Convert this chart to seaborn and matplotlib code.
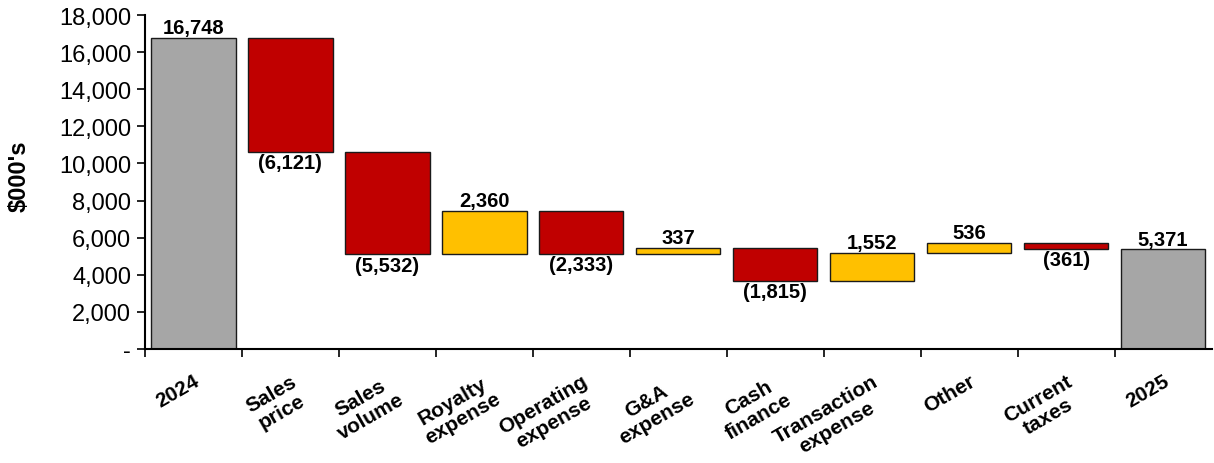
import matplotlib
matplotlib.use("Agg")
import matplotlib.pyplot as plt
import seaborn as sns
import numpy as np
import pandas as pd
from matplotlib.ticker import FuncFormatter, FixedLocator

categories = ["2024", "Sales\nprice", "Sales\nvolume", "Royalty\nexpense", "Operating\nexpense",
              "G&A\nexpense", "Cash\nfinance", "Transaction\nexpense", "Other", "Current\ntaxes", "2025"]
changes = [16748, -6121, -5532, 2360, -2333, 337, -1815, 1552, 536, -361, 5371]
kinds = ["total", "delta", "delta", "delta", "delta", "delta", "delta", "delta", "delta", "delta", "total"]

colors = {"total": "#A6A6A6", "neg": "#C00000", "pos": "#FFC000"}

# compute waterfall bases
bases, heights, ctype = [], [], []
running = 0
for v, k in zip(changes, kinds):
    if k == "total":
        bases.append(0); heights.append(v); ctype.append("total"); running = v
    else:
        new = running + v
        bases.append(min(running, new)); heights.append(abs(v))
        ctype.append("pos" if v > 0 else "neg")
        running = new

df = pd.DataFrame({"cat": categories, "h": heights, "b": bases, "t": ctype})

sns.set_theme(style="white")
plt.rcParams["font.family"] = ["Liberation Sans", "DejaVu Sans"]
plt.rcParams["text.color"] = "black"
plt.rcParams["axes.labelcolor"] = "black"
plt.rcParams["xtick.color"] = "black"
plt.rcParams["ytick.color"] = "black"

fig = plt.figure(figsize=(12.14, 4.64), dpi=100)
ax = fig.add_axes([0.1194, 0.2457, 0.8786, 0.7198])

sns.barplot(data=df, x="cat", y="h", bottom=df["b"].values, errorbar=None, width=0.87,
            color="#A6A6A6", edgecolor="#1a1a1a", linewidth=1.0, ax=ax)
for p, t in zip(ax.patches, ctype):
    p.set_facecolor(colors[t])

# value labels
for i, (v, k, b, h) in enumerate(zip(changes, kinds, bases, heights)):
    if k == "total" or v > 0:
        ax.text(i, b + h + 40, f"{v:,}", ha="center", va="bottom", fontsize=14.5, fontweight="bold")
    else:
        ax.text(i, b - 60, f"({abs(v):,})", ha="center", va="top", fontsize=14.5, fontweight="bold")

ax.set_xlim(-0.5, 10.5)
ax.set_ylim(0, 18000)
ax.yaxis.set_major_locator(FixedLocator(np.arange(0, 18001, 2000)))
ax.yaxis.set_major_formatter(FuncFormatter(lambda x, p: "-" if x == 0 else f"{int(x):,}"))
ax.tick_params(axis="y", which="major", direction="out", length=6, width=1.2, labelsize=17, pad=4, left=True)

ax.set_xticks(range(len(categories)))
ax.set_xticklabels(categories, rotation=30, ha="right", va="top", rotation_mode="anchor",
                   fontsize=15, fontweight="bold", multialignment="center", linespacing=1.1)
ax.tick_params(axis="x", which="major", length=0, pad=16)
ax.set_xticks(np.arange(-0.5, 10.0, 1.0), minor=True)
ax.tick_params(axis="x", which="minor", direction="out", length=6, width=1.2, bottom=True)

for s in ["top", "right"]:
    ax.spines[s].set_visible(False)
for s in ["left", "bottom"]:
    ax.spines[s].set_color("black")
    ax.spines[s].set_linewidth(1.5)

ax.set_xlabel("")
ax.set_ylabel("$000's", fontsize=17, fontweight="bold")
ax.yaxis.set_label_coords(-0.107, 0.52)

fig.savefig("out.png", dpi=100)
